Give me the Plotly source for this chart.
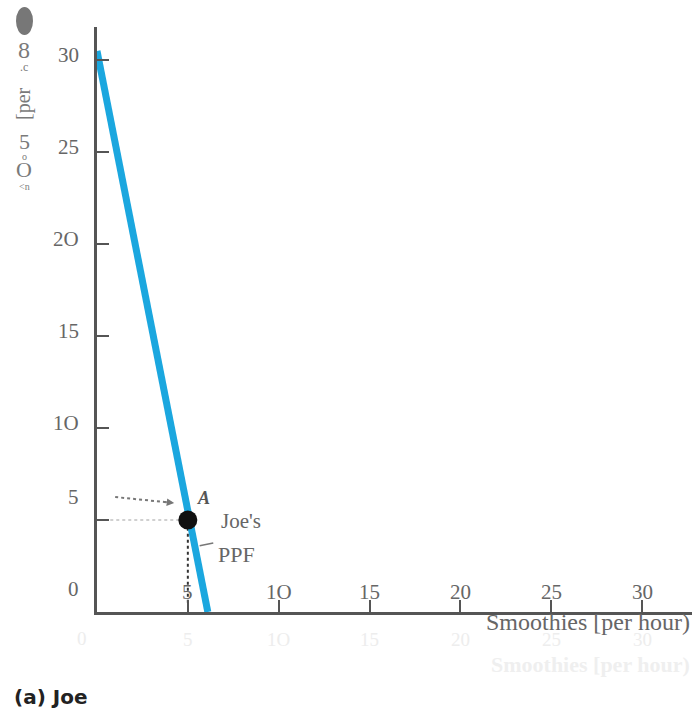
import plotly.graph_objects as go

# ---- data ----
ppf_smoothies = [0, 6.1]
ppf_coconuts = [30.5, 0]
point_a_smoothies = [5]
point_a_coconuts = [5]
x_tick_vals = [5, 10, 15, 20, 25, 30]
x_tick_text = ["5", "1O", "15", "20", "25", "30"]
y_tick_vals = [0, 5, 10, 15, 20, 25, 30]
y_tick_text = ["0", "5", "1O", "15", "2O", "25", "30"]
x_title = "Smoothies [per hour)"
panel_label = "(a) Joe"

W, H = 692, 711
L, T, B = 97, 27, 99
XMAX, YMAX = 32.75, 31.8
PW, PH = W - L, H - T - B


def px(x):
    return (x - L) / PW


def py(y):
    return (H - B - y) / PH


SERIF = "Liberation Serif"
GREY = "#666666"

fig = go.Figure()

# faint dotted guide to y axis
fig.add_trace(go.Scatter(x=[0.4, point_a_smoothies[0] - 0.4], y=[point_a_coconuts[0]] * 2,
                         mode="lines", line=dict(color="#d0d0d0", width=2, dash="dot"),
                         hoverinfo="skip", showlegend=False))
# dotted guide to x axis
fig.add_trace(go.Scatter(x=[point_a_smoothies[0]] * 2, y=[0.5, point_a_coconuts[0] - 0.4],
                         mode="lines", line=dict(color="#333333", width=2, dash="dot"),
                         hoverinfo="skip", showlegend=False))
# PPF line
fig.add_trace(go.Scatter(x=ppf_smoothies, y=ppf_coconuts, mode="lines",
                         line=dict(color="#1ba7df", width=7), showlegend=False))
# point A
fig.add_trace(go.Scatter(x=point_a_smoothies, y=point_a_coconuts, mode="markers",
                         marker=dict(color="#111111", size=19), showlegend=False))
# dotted arrow toward A
fig.add_trace(go.Scatter(x=[1.0, 4.0], y=[6.25, 5.95], mode="lines",
                         line=dict(color="#777777", width=2, dash="dot"),
                         hoverinfo="skip", showlegend=False))
# leader line for PPF label
fig.add_trace(go.Scatter(x=[5.65, 6.4], y=[3.6, 3.75], mode="lines",
                         line=dict(color="#777777", width=1.5),
                         hoverinfo="skip", showlegend=False))

ann = []
ann.append(dict(x=4.25, y=5.92, ax=3.6, ay=6.0, xref="x", yref="y", axref="x", ayref="y",
                showarrow=True, arrowhead=2, arrowsize=1, arrowwidth=1.5,
                arrowcolor="#777777", text=""))
ann.append(dict(x=5.85, y=6.2, xref="x", yref="y", text="<b><i>A</i></b>", showarrow=False,
                font=dict(family=SERIF, size=18, color="#555555")))
ann.append(dict(x=7.9, y=4.95, xref="x", yref="y", text="Joe's", showarrow=False,
                font=dict(family=SERIF, size=21, color=GREY)))
ann.append(dict(x=7.7, y=3.15, xref="x", yref="y", text="PPF", showarrow=False,
                font=dict(family=SERIF, size=22, color=GREY)))

# x tick labels (above axis)
for v, t in zip(x_tick_vals, x_tick_text):
    ann.append(dict(x=v, y=0, xref="x", yref="y", text=t, showarrow=False, yshift=20,
                    font=dict(family=SERIF, size=21, color=GREY)))
    # faint ghost copy below axis
    ann.append(dict(x=v, y=0, xref="x", yref="y", text=t, showarrow=False, yshift=-27,
                    font=dict(family=SERIF, size=19, color="#ededed")))

# y tick labels
for v, t in zip(y_tick_vals, y_tick_text):
    extra = 18 if v in (0, 5) else 0
    ann.append(dict(x=0, y=v, xref="x", yref="y", text=t, showarrow=False,
                    xanchor="right", xshift=-16, yshift=5 + extra,
                    font=dict(family=SERIF, size=21, color=GREY)))

ann.append(dict(x=px(75), y=py(638), xref="paper", yref="paper", text="0", showarrow=False,
                yanchor="middle", font=dict(family=SERIF, size=19, color="#ededed")))

# x axis title
ann.append(dict(x=1, y=py(622), xref="paper", yref="paper", text=x_title, showarrow=False,
                xanchor="right", yanchor="middle",
                font=dict(family=SERIF, size=24, color=GREY)))
ann.append(dict(x=1, y=py(665), xref="paper", yref="paper", text="<b>" + x_title + "</b>",
                showarrow=False, xanchor="right", yanchor="middle",
                font=dict(family=SERIF, size=22, color="#efefef")))

# panel label
ann.append(dict(x=px(12), y=py(697), xref="paper", yref="paper", text="<b>" + panel_label + "</b>",
                showarrow=False, xanchor="left", yanchor="middle",
                font=dict(family="DejaVu Sans", size=20, color="#222222")))

# garbled y-axis title fragments
yfrag = [("8", 50, 24), (".c", 67, 12), ("5", 141, 22), ("o", 156, 10), ("O", 169, 22), ("&lt;n", 186, 10)]
for t, yy, s in yfrag:
    ann.append(dict(x=px(24), y=py(yy), xref="paper", yref="paper", text=t, showarrow=False,
                    xanchor="center", yanchor="middle",
                    font=dict(family=SERIF, size=s, color="#7a7a7a")))
ann.append(dict(x=px(24), y=py(104), xref="paper", yref="paper", text="[per", showarrow=False,
                textangle=-90, xanchor="center", yanchor="middle",
                font=dict(family=SERIF, size=20, color="#7a7a7a")))

shapes = [dict(type="circle", xref="paper", yref="paper",
               x0=px(16), x1=px(33), y0=py(35), y1=py(7),
               fillcolor="#777777", line=dict(width=0))]

fig.update_layout(
    width=W, height=H,
    margin=dict(l=L, r=0, t=T, b=B),
    plot_bgcolor="white", paper_bgcolor="white",
    showlegend=False,
    annotations=ann,
    shapes=shapes,
    xaxis=dict(range=[0, XMAX], showgrid=False, zeroline=False, showline=True,
               linecolor="#555555", linewidth=2.5, ticks="inside", ticklen=12,
               tickwidth=2, tickcolor="#555555", tickvals=x_tick_vals,
               showticklabels=False, fixedrange=True),
    yaxis=dict(range=[0, YMAX], showgrid=False, zeroline=False, showline=True,
               linecolor="#555555", linewidth=2.5, ticks="inside", ticklen=12,
               tickwidth=2, tickcolor="#555555", tickvals=y_tick_vals[1:],
               showticklabels=False, fixedrange=True),
)

fig.write_html("out.html", config={"displayModeBar": False},
               post_script="document.body.style.margin='0';document.body.style.overflow='hidden';")
